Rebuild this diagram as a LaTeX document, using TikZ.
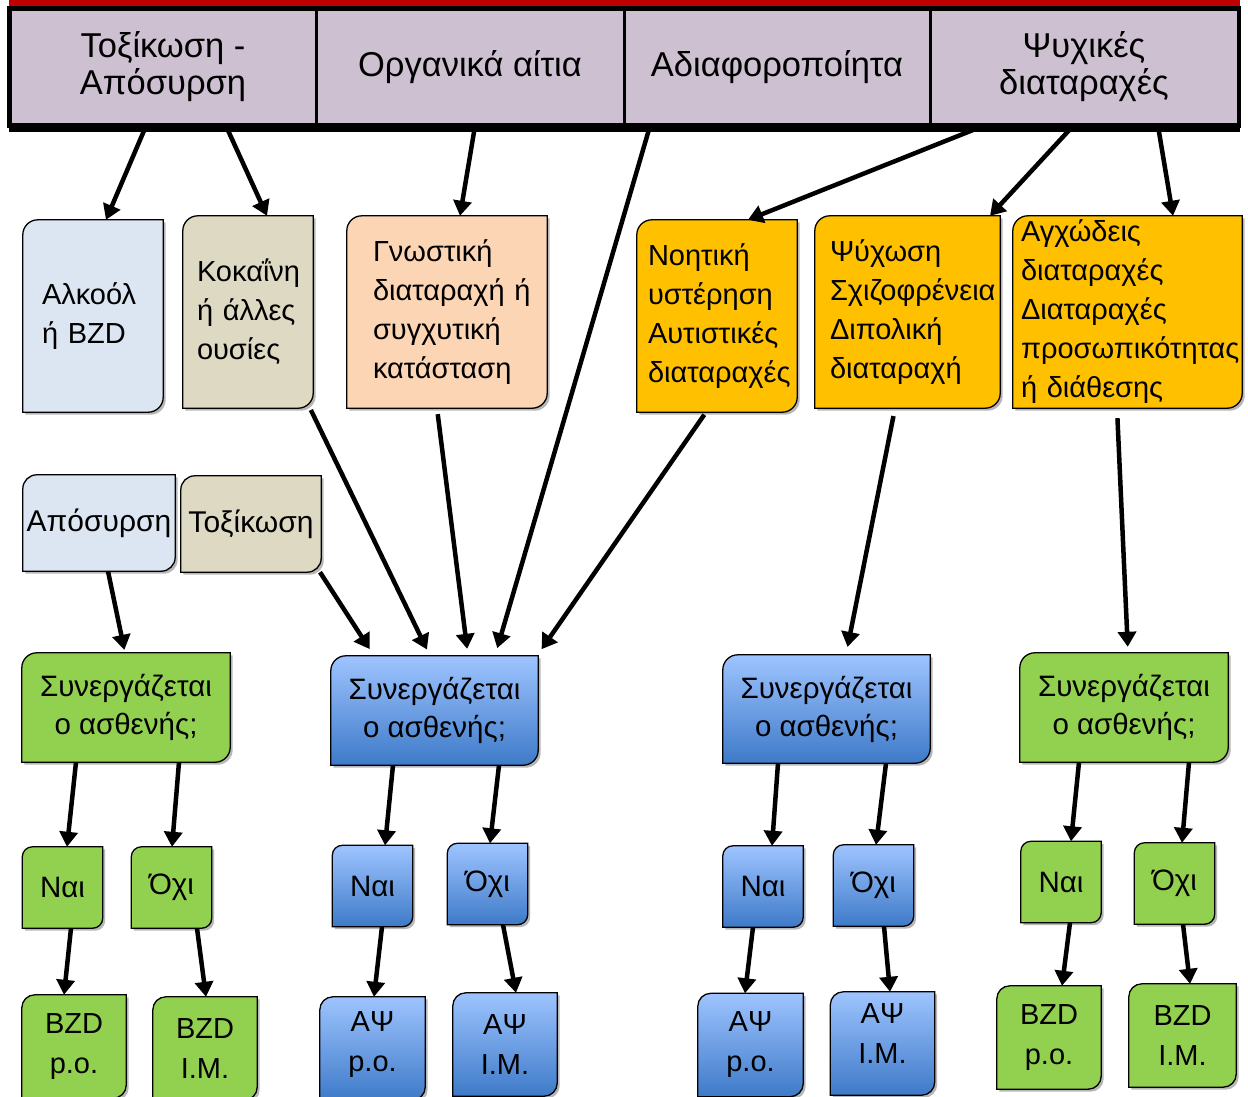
\documentclass[tikz,border=0pt]{standalone}
\usepackage{fontspec}
\setmainfont{Liberation Sans}
\usetikzlibrary{arrows.meta,shadows}
\pgfdeclarelayer{background}
\pgfdeclarelayer{bottom}
\pgfsetlayers{bottom,background,main}
\definecolor{redc}{RGB}{192,0,0}
\definecolor{hdr}{RGB}{205,193,209}
\definecolor{lblue}{RGB}{220,230,242}
\definecolor{tanc}{RGB}{221,217,195}
\definecolor{peach}{RGB}{252,213,181}
\definecolor{orng}{RGB}{255,192,0}
\definecolor{grn}{RGB}{146,208,80}
\definecolor{bluet}{RGB}{158,196,255}
\definecolor{blueb}{RGB}{62,122,200}
\newcommand\leafshape[3]{%
  \path[shp,#2] ([yshift=-#3]#1.north west) arc[start angle=180,end angle=90,radius=#3]
    -- (#1.north east) -- ([yshift=#3]#1.south east) arc[start angle=0,end angle=-90,radius=#3]
    -- (#1.south west) -- cycle;}
\begin{document}
\begin{tikzpicture}[x=1pt,y=-1pt,
  hcell/.style={draw=black,line width=3pt,fill=hdr,minimum height=115pt,inner sep=0pt,align=center,font=\fontsize{34.5}{37}\selectfont},
  tb/.style={inner sep=0pt,minimum height=192pt,align=left,font=\fontsize{29}{39}\selectfont},
  cb/.style={inner sep=0pt,align=center,font=\fontsize{29.5}{38}\selectfont},
  rbox/.style={cb,font=\fontsize{30}{36}\selectfont,minimum height=96pt},
  qbox/.style={cb,minimum width=208pt,minimum height=109pt},
  ybox/.style={cb,minimum width=80pt,minimum height=81pt},
  lbox/.style={cb,font=\fontsize{29}{40}\selectfont,minimum width=104pt,minimum height=103pt},
  arr/.style={line width=4.5pt,-{Triangle[length=15pt,width=18pt]}},
  shp/.style={draw=black,line width=1.3pt,drop shadow={shadow xshift=2.5pt,shadow yshift=-2.5pt,opacity=0.4,fill=black!70}},
  sl/.style={fill=lblue}, st/.style={fill=tanc}, sp/.style={fill=peach},
  so/.style={fill=orng}, sg/.style={fill=grn}, sb/.style={top color=bluet,bottom color=blueb}]
\begin{pgfonlayer}{bottom}
\fill[white] (0,0) rectangle (1248,1097);
\end{pgfonlayer}
\useasboundingbox (0,0) rectangle (1248,1097);

% header
\node[hcell,minimum width=306pt] (h1) at (163,67) {Τοξίκωση -\\Απόσυρση};
\node[hcell,minimum width=308pt] (h2) at (470,67) {Οργανικά αίτια};
\node[hcell,minimum width=306pt] (h3) at (777,67) {Αδιαφοροποίητα};
\node[hcell,minimum width=308pt] (h4) at (1084,67) {Ψυχικές\\διαταραχές};
\fill[redc] ([yshift=10pt]h1.north west) rectangle (h4.north east);
\draw[line width=3.5pt] (h1.north west) rectangle (h4.south east);
\fill[black] ([yshift=3pt]h1.south west) rectangle ([yshift=-6pt]h4.south east);

% row 2
\node[tb,inner xsep=19pt,text width=102pt] (A) at (93,316) {Αλκοόλ\\ή~BZD};
\node[tb,inner xsep=14pt,text width=102pt] (B) at (248,312) {Κοκαΐνη\\ή~άλλες\\ουσίες};
\node[tb,inner xsep=26pt,text width=148pt] (C) at (447,312) {Γνωστική\\διαταραχή~ή\\συγχυτική\\κατάσταση};
\node[tb,inner xsep=11pt,text width=138pt] (D) at (717,316) {Νοητική\\υστέρηση\\Αυτιστικές\\διαταραχές};
\node[tb,inner xsep=15pt,text width=155pt] (E) at (907.5,312) {Ψύχωση\\Σχιζοφρένεια\\Διπολική\\διαταραχή};
\node[tb,inner xsep=8pt,text width=213pt] (F) at (1127.5,312) {Αγχώδεις\\διαταραχές\\Διαταραχές\\προσωπικότητας\\ή~διάθεσης};

% row 3
\node[rbox,minimum width=152pt] (R1) at (99,523) {Απόσυρση};
\node[rbox,minimum width=140pt] (R2) at (251,524) {Τοξίκωση};

% row 4
\node[qbox] (G1) at (126,707.5) {Συνεργάζεται\\ο ασθενής;};
\node[qbox,minimum width=207pt] (B1) at (434.5,710.5) {Συνεργάζεται\\ο ασθενής;};
\node[qbox,minimum width=207pt,minimum height=108pt] (B2) at (826.5,709) {Συνεργάζεται\\ο ασθενής;};
\node[qbox] (G2) at (1124,707.5) {Συνεργάζεται\\ο ασθενής;};

% row 5
\node[ybox] (g1y) at (62.5,887.5) {Ναι};
\node[ybox] (g1n) at (171.5,887.5) {Όχι};
\node[ybox] (b1y) at (372.5,886) {Ναι};
\node[ybox] (b1n) at (487.5,884) {Όχι};
\node[ybox] (b2y) at (763,886.5) {Ναι};
\node[ybox] (b2n) at (873.5,885.5) {Όχι};
\node[ybox] (g2y) at (1061,882) {Ναι};
\node[ybox] (g2n) at (1174.5,883.5) {Όχι};

% row 6
\node[lbox] (g1p) at (74,1046.5) {BZD\\p.o.};
\node[lbox] (g1i) at (205,1048.5) {BZD\\I.M.};
\node[lbox,minimum width=105pt,text depth=14pt] (b1p) at (372.5,1048.5) {ΑΨ\\p.o.};
\node[lbox] (b1i) at (505,1044.5) {ΑΨ\\I.M.};
\node[lbox,minimum width=105pt] (b2p) at (750.5,1045) {ΑΨ\\p.o.};
\node[lbox,text depth=20pt] (b2i) at (882.5,1043.5) {ΑΨ\\I.M.};
\node[lbox] (g2p) at (1049,1037.5) {BZD\\p.o.};
\node[lbox,minimum width=107pt] (g2i) at (1182.5,1035.5) {BZD\\I.M.};

\begin{pgfonlayer}{background}
\foreach \n/\s/\r in {A/sl/15pt,B/st/15pt,C/sp/15pt,D/so/15pt,E/so/15pt,F/so/15pt,
  R1/sl/14pt,R2/st/14pt,G1/sg/15pt,B1/sb/15pt,B2/sb/15pt,G2/sg/15pt,
  g1y/sg/10pt,g1n/sg/10pt,b1y/sb/10pt,b1n/sb/10pt,b2y/sb/10pt,b2n/sb/10pt,g2y/sg/10pt,g2n/sg/10pt,
  g1p/sg/13pt,g1i/sg/13pt,b1p/sb/13pt,b1i/sb/13pt,b2p/sb/13pt,b2i/sb/13pt,g2p/sg/13pt,g2i/sg/13pt}
  {\leafshape{\n}{\s}{\r}}
\end{pgfonlayer}

% arrows from header
\draw[arr] ([xshift=-17pt]h1.south) -- ([xshift=13pt]A.north);
\draw[arr] ([xshift=63pt]h1.south) -- ([xshift=19pt]B.north);
\draw[arr] ([xshift=5pt]h2.south) -- ([xshift=13pt]C.north);
\draw[arr,shorten >=8pt] ([xshift=-127pt]h3.south) -- ([xshift=60.5pt]B1.north);
\draw[arr] ([xshift=-101pt]h4.south) -- ([xshift=31pt]D.north);
\draw[arr] ([xshift=-11pt]h4.south) -- ([xshift=82.5pt]E.north);
\draw[arr] ([xshift=74pt]h4.south) -- ([xshift=45.5pt]F.north);

% arrows to row 4
\draw[arr,shorten <=2pt,shorten >=7pt] ([xshift=62pt]B.south) -- ([xshift=-4.5pt]B1.north);
\draw[arr,shorten <=6pt,shorten >=7pt] ([xshift=-10pt]C.south) -- ([xshift=33.5pt]B1.north);
\draw[arr,shorten <=3pt,shorten >=8pt] ([xshift=-11pt]D.south) -- ([xshift=102.5pt]B1.north);
\draw[arr,shorten >=8pt] ([xshift=69pt]R2.south) -- ([xshift=-60.5pt]B1.north);
\draw[arr,shorten >=3pt] ([xshift=9pt]R1.south) -- ([xshift=-1pt]G1.north);
\draw[arr,shorten <=8pt,shorten >=8pt] ([xshift=-12.5pt]E.south) -- ([xshift=19.5pt]B2.north);
\draw[arr,shorten <=10pt,shorten >=6pt] ([xshift=-10.5pt]F.south) -- ([xshift=4pt]G2.north);

% arrows to row 5
\draw[arr] ([xshift=-50pt]G1.south) -- ([xshift=4.5pt]g1y.north);
\draw[arr] ([xshift=53pt]G1.south) -- ([xshift=0.5pt]g1n.north);
\draw[arr] ([xshift=-41.5pt]B1.south) -- ([xshift=12.5pt]b1y.north);
\draw[arr] ([xshift=64.5pt]B1.south) -- ([xshift=2.5pt]b1n.north);
\draw[arr] ([xshift=-48.5pt]B2.south) -- ([xshift=9pt]b2y.north);
\draw[arr] ([xshift=59.5pt]B2.south) -- ([xshift=2.5pt]b2n.north);
\draw[arr] ([xshift=-45pt]G2.south) -- ([xshift=10pt]g2y.north);
\draw[arr] ([xshift=65pt]G2.south) -- ([xshift=7.5pt]g2n.north);

% arrows to row 6
\draw[arr] ([xshift=8.5pt]g1y.south) -- ([xshift=-10pt]g1p.north);
\draw[arr] ([xshift=25.5pt]g1n.south) -- ([xshift=1pt]g1i.north);
\draw[arr] ([xshift=9.5pt]b1y.south) -- ([xshift=1.5pt]b1p.north);
\draw[arr] ([xshift=15.5pt]b1n.south) -- ([xshift=11pt]b1i.north);
\draw[arr] ([xshift=-10pt]b2y.south) -- ([xshift=-5.5pt]b2p.north);
\draw[arr] ([xshift=10.5pt]b2n.south) -- ([xshift=7.5pt]b2i.north);
\draw[arr] ([xshift=9pt]g2y.south) -- ([xshift=13pt]g2p.north);
\draw[arr] ([xshift=8.5pt]g2n.south) -- ([xshift=7.5pt]g2i.north);
\end{tikzpicture}
\end{document}
